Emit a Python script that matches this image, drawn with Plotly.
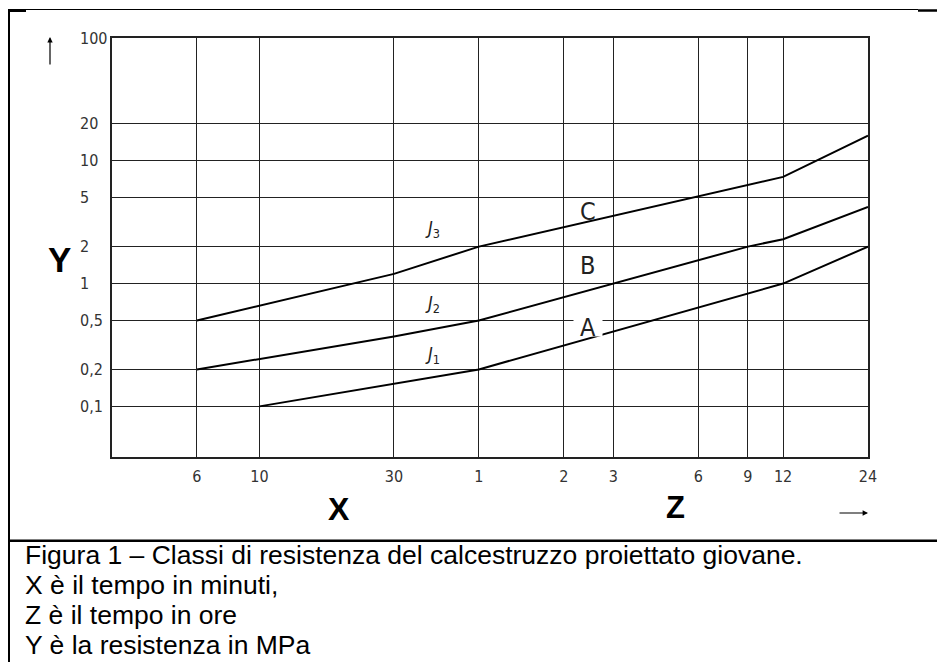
import numpy as np
import plotly.graph_objects as go

# ---------------- data ----------------
x_tick_minutes = [6, 10, 30, 60, 120, 180, 360, 540, 720, 1440]
x_tick_labels = ["6", "10", "30", "1", "2", "3", "6", "9", "12", "24"]
y_tick_values = [0.1, 0.2, 0.5, 1, 2, 5, 10, 20, 100]
y_tick_labels = ["0,1", "0,2", "0,5", "1", "2", "5", "10", "20", "100"]

# boundary curves (time in minutes, strength in MPa)
time_J1 = [10, 60, 720, 1440]
res_J1 = [0.1, 0.2, 1.0, 2.0]
time_J2 = [6, 30, 60, 540, 720, 1440]
res_J2 = [0.2, 0.37, 0.5, 2.0, 2.3, 4.2]
time_J3 = [6, 30, 60, 720, 1440]
res_J3 = [0.5, 1.2, 2.0, 7.4, 16.0]

# region labels
class_labels = ["A", "B", "C"]
class_label_time = [146, 146, 146]
class_label_res = [0.44, 1.41, 3.9]
curve_labels = ["<i>J</i><sub>1</sub>", "<i>J</i><sub>2</sub>", "<i>J</i><sub>3</sub>"]
curve_label_time = [41, 41, 41]
curve_label_res = [0.26, 0.68, 2.8]

caption_lines = [
    "Figura 1 \u2013 Classi di resistenza del calcestruzzo proiettato giovane.",
    "X \u00e8 il tempo in minuti,",
    "Z \u00e8 il tempo in ore",
    "Y \u00e8 la resistenza in MPa",
]

# ---------------- layout geometry ----------------
W, H = 937, 662
ML, MR, MT, MB = 112, 69, 38, 205
PW, PH = W - ML - MR, H - MT - MB


def px(xp):
    return (xp - ML) / PW


def py(yp):
    return (H - MB - yp) / PH


NARROW = "Liberation Sans Narrow, DejaVu Sans Condensed, sans-serif"
tick_font = dict(family=NARROW, size=16, color="#333")

fig = go.Figure()
for t, r in [(time_J1, res_J1), (time_J2, res_J2), (time_J3, res_J3)]:
    fig.add_trace(go.Scatter(x=t, y=r, mode="lines",
                             line=dict(color="black", width=2),
                             hoverinfo="skip", showlegend=False))

annotations = []
# y tick labels (left aligned, as in the drawing)
for v, t in zip(y_tick_values, y_tick_labels):
    annotations.append(dict(x=px(78), xref="paper", xanchor="left",
                            y=np.log10(v), yref="y", yanchor="middle",
                            text=t, showarrow=False, font=tick_font))

# class labels
for lab, t, r in zip(class_labels, class_label_time, class_label_res):
    a = dict(x=np.log10(t), y=np.log10(r), xref="x", yref="y", text=lab,
             xanchor="center", yanchor="middle", showarrow=False,
             font=dict(family=NARROW, size=25, color="#222"))
    if lab == "A":
        a.update(bgcolor="white", width=28, height=18, borderpad=0)
    annotations.append(a)

# curve labels
for lab, t, r in zip(curve_labels, curve_label_time, curve_label_res):
    annotations.append(dict(x=np.log10(t), y=np.log10(r), xref="x", yref="y",
                            xanchor="center", yanchor="middle",
                            text=lab, showarrow=False,
                            font=dict(family=NARROW, size=18, color="#222")))

# axis letters
annotations.append(dict(x=px(59.5), y=py(259.5), xref="paper", yref="paper",
                        xanchor="center", yanchor="middle",
                        text="<b>Y</b>", showarrow=False,
                        font=dict(family="Liberation Sans, Arial, sans-serif", size=35, color="black")))
annotations.append(dict(x=px(338.5), y=py(509), xref="paper", yref="paper",
                        xanchor="center", yanchor="middle",
                        text="<b>X</b>", showarrow=False,
                        font=dict(family="Liberation Sans, Arial, sans-serif", size=32, color="black")))
annotations.append(dict(x=px(675.5), y=py(507.5), xref="paper", yref="paper",
                        xanchor="center", yanchor="middle",
                        text="<b>Z</b>", showarrow=False,
                        font=dict(family="Liberation Sans, Arial, sans-serif", size=31, color="black")))

# arrows
annotations.append(dict(x=px(50), y=py(37), xref="paper", yref="paper", text="",
                        showarrow=True, ax=0, ay=29, arrowhead=2, arrowsize=0.9,
                        arrowwidth=1.2, arrowcolor="black"))
annotations.append(dict(x=px(868), y=py(513), xref="paper", yref="paper", text="",
                        showarrow=True, ax=-30, ay=0, arrowhead=2, arrowsize=0.9,
                        arrowwidth=1.2, arrowcolor="black"))

# caption
for i, line in enumerate(caption_lines):
    annotations.append(dict(x=px(23), y=py(555 + 30 * i), xref="paper", yref="paper",
                            xanchor="left", yanchor="middle", text=line, showarrow=False,
                            font=dict(family="Liberation Sans, Arial, sans-serif",
                                      size=26.5, color="black")))

shapes = [
    # left border of the table cell
    dict(type="line", xref="paper", yref="paper", x0=px(9), x1=px(9), y0=py(9), y1=py(H + 5),
         line=dict(color="black", width=2)),
    # top border
    dict(type="line", xref="paper", yref="paper", x0=px(8), x1=px(918), y0=py(9.5), y1=py(9.5),
         line=dict(color="black", width=1)),
    dict(type="line", xref="paper", yref="paper", x0=px(8), x1=px(26), y0=py(10.5), y1=py(10.5),
         line=dict(color="black", width=3)),
    dict(type="line", xref="paper", yref="paper", x0=px(918), x1=px(W + 2), y0=py(10.5), y1=py(10.5),
         line=dict(color="black", width=2.5)),
    # separator above caption
    dict(type="line", xref="paper", yref="paper", x0=px(8), x1=px(W + 2), y0=py(540.7), y1=py(540.7),
         line=dict(color="black", width=2.5)),
]

fig.update_layout(
    width=W, height=H,
    margin=dict(l=ML, r=MR, t=MT, b=MB, pad=0),
    paper_bgcolor="white", plot_bgcolor="white",
    showlegend=False,
    annotations=annotations,
    shapes=shapes,
    xaxis=dict(type="log", range=[np.log10(3), np.log10(1440)],
               tickmode="array", tickvals=x_tick_minutes, ticktext=x_tick_labels,
               showgrid=True, gridcolor="#222", gridwidth=1.2,
               showline=True, mirror=True, linecolor="#222", linewidth=2,
               ticks="", zeroline=False, tickfont=tick_font, ticklabelstandoff=4),
    yaxis=dict(type="log", range=[np.log10(0.0387), 2],
               tickmode="array", tickvals=y_tick_values, showticklabels=False,
               showgrid=True, gridcolor="#222", gridwidth=1.2,
               showline=True, mirror=True, linecolor="#222", linewidth=2,
               ticks="", zeroline=False),
)

fig.write_html("out.html", config={"displayModeBar": False},
               post_script="document.body.style.margin='0';document.body.style.overflow='hidden';")
